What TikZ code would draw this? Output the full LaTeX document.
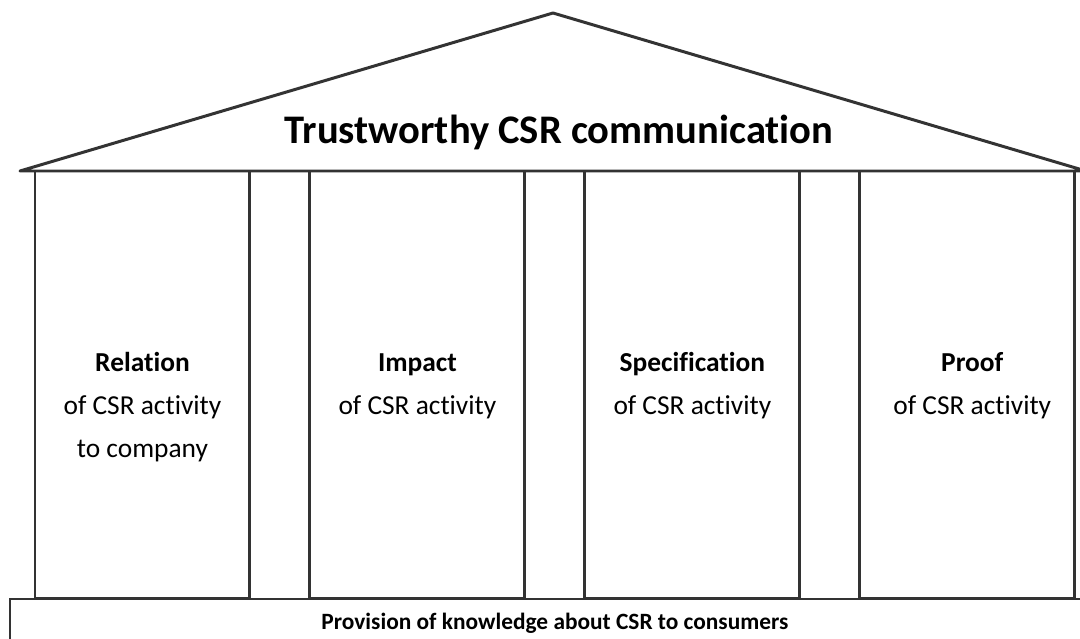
\documentclass[tikz,border=0pt]{standalone}
\usepackage{fontspec}
\setmainfont{Carlito}[Ligatures=NoCommon]
\usepackage{tikz}
\usetikzlibrary{positioning}
\tikzset{
    % Dark grey outline used for every part of the temple
    frame/.style={draw=black!80, line width=1.7pt, line join=miter},
%
    % One pillar of the temple, drawn as an empty box
    pillar/.style={frame, rectangle, outer sep=0pt, inner sep=0pt,
        minimum width=4.3cm, minimum height=8.56cm},
%
    % Text written inside a pillar
    pillar text/.style={align=center, font=\fontsize{15.6}{24.5}\selectfont,
        anchor=north, inner sep=0pt},
%
    % Large heading under the roof
    title text/.style={font=\fontsize{23.1}{28}\selectfont\bfseries},
%
    % Foundation slab with its text
    foundation/.style={frame, rectangle, outer sep=0pt, inner sep=0pt,
        minimum width=21.8cm, minimum height=0.98cm,
        font=\fontsize{13.3}{15}\selectfont\bfseries}}

\begin{document}
\begin{tikzpicture}[x=0.02cm, y=-0.02cm]

\useasboundingbox (0,0) rectangle (1080,639);
\clip (0,0) rectangle (1080,639);

% roof
\coordinate (eave west) at (20,171);
\coordinate (ridge) at (553,13);
\coordinate (eave east) at (1086,171);
\draw [frame, line join=round] (eave west) -- (ridge) -- (eave east) -- cycle;
\node (title) [title text, anchor=base] at (559,143)
    {Trustworthy CSR communication};

% pillars
\node (relation) [pillar, anchor=north west] at (35,171) {};
\node (impact) [pillar, right=1.2cm of relation] {};
\node (specification) [pillar, right=1.2cm of impact] {};
\node (proof) [pillar, right=1.2cm of specification] {};

\node (relation text) [pillar text, below=3.4cm of relation.north]
    {\strut\textbf{Relation}\\of CSR activity\\to company};
\node (impact text) [pillar text, below=3.4cm of impact.north]
    {\strut\textbf{Impact}\\of CSR activity};
\node (specification text) [pillar text, below=3.4cm of specification.north]
    {\strut\textbf{Specification}\\of CSR activity};
\node (proof text) [pillar text, below=3.4cm of proof.north, xshift=1mm]
    {\strut\textbf{Proof}\\of CSR activity};

% foundation
\node (base) [foundation, anchor=north west] at (10,599)
    {Provision of knowledge about CSR to consumers};

\end{tikzpicture}
\end{document}
